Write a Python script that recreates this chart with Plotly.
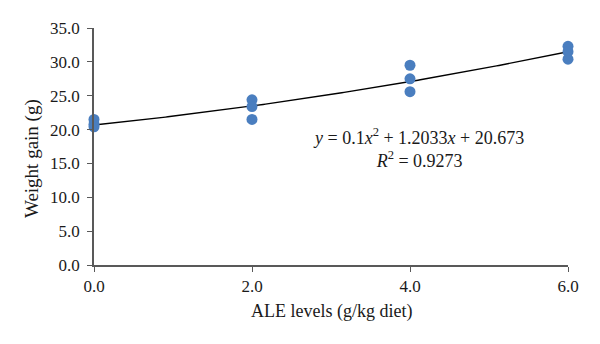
import numpy as np
import plotly.graph_objects as go

# Data
ale_levels = [0, 0, 0, 2, 2, 2, 4, 4, 4, 6, 6, 6]
weight_gain = [21.5, 20.8, 20.4, 24.4, 23.4, 21.5, 29.5, 27.5, 25.6, 32.3, 31.5, 30.4]
fit_coeffs = [0.1, 1.2033, 20.673]  # a*x^2 + b*x + c
x_ticks = [0, 2, 4, 6]
y_ticks = [0, 5, 10, 15, 20, 25, 30, 35]

FONT = "Liberation Serif"
AXIS_COLOR = "#595959"
TEXT_COLOR = "#1a1a1a"

xf = np.linspace(0, 6, 200)
yf = np.polyval(fit_coeffs, xf)

fig = go.Figure()
fig.add_trace(go.Scatter(
    x=xf, y=yf, mode="lines",
    line=dict(color="black", width=1.4),
    hoverinfo="skip", cliponaxis=False, showlegend=False))
fig.add_trace(go.Scatter(
    x=ale_levels, y=weight_gain, mode="markers",
    marker=dict(color="#4a7ebf", size=11),
    cliponaxis=False, showlegend=False))

fig.add_annotation(
    x=4.11, y=17.3, xref="x", yref="y", showarrow=False,
    xanchor="center", yanchor="middle", align="center",
    text=("<i>y</i> = 0.1<i>x</i><sup>2</sup> + 1.2033<i>x</i> + 20.673"
          "<br><i>R</i><sup>2</sup> = 0.9273"),
    font=dict(family=FONT, size=18, color=TEXT_COLOR))

# axis titles
fig.add_annotation(
    x=0.5, y=-0.198, xref="paper", yref="paper", showarrow=False,
    xanchor="center", yanchor="middle",
    text="ALE levels (g/kg diet)",
    font=dict(family=FONT, size=18, color=TEXT_COLOR))
fig.add_annotation(
    x=-0.131, y=0.451, xref="paper", yref="paper", showarrow=False,
    xanchor="center", yanchor="middle", textangle=-90,
    text="Weight gain (g)",
    font=dict(family=FONT, size=19, color=TEXT_COLOR))

fig.update_layout(
    width=600, height=344,
    margin=dict(l=94, r=32, t=28, b=79),
    plot_bgcolor="white", paper_bgcolor="white",
    font=dict(family=FONT, size=17, color=TEXT_COLOR),
    xaxis=dict(
        range=[0, 6], tickvals=x_ticks, tickformat=".1f",
        showgrid=False, zeroline=False,
        showline=True, linecolor=AXIS_COLOR, linewidth=1.5,
        ticks="outside", ticklen=5, tickcolor=AXIS_COLOR, tickwidth=1.2,
    ),
    yaxis=dict(
        range=[0, 35], tickvals=y_ticks, tickformat=".1f",
        showgrid=False, zeroline=False,
        showline=True, linecolor=AXIS_COLOR, linewidth=1.5,
        ticks="outside", ticklen=5, tickcolor=AXIS_COLOR, tickwidth=1.2,
        ticklabelstandoff=4,
    ),
)

fig.write_html("out.html")
